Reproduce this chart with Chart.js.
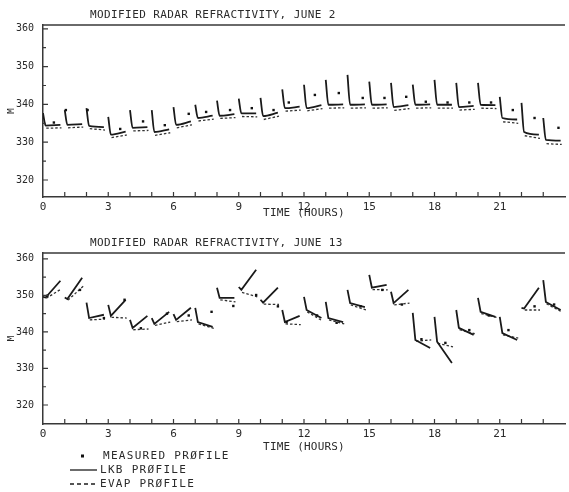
<!DOCTYPE html>
<html>
<head>
<meta charset="utf-8">
<script src="https://cdn.jsdelivr.net/npm/chart.js@4.4.1/dist/chart.umd.min.js"></script>
<style>
  html, body { margin: 0; padding: 0; background: #fff; }
  #wrap { position: relative; width: 569px; height: 492px; overflow: hidden; }
  #wrap canvas { position: absolute; left: 0; }
  #june2 { top: 0; }
  #june13 { top: 230px; }
</style>
</head>
<body>
<div id="wrap">
  <canvas id="june2" width="569" height="230"></canvas>
  <canvas id="june13" width="569" height="262"></canvas>
</div>
<script>
// One profile is plotted per hour, offset along the time axis.
const HOURS = [0, 1, 2, 3, 4, 5, 6, 7, 8, 9, 10, 11, 12, 13, 14, 15, 16, 17, 18, 19, 20, 21, 22, 23];
const X_LABELS = [0, 3, 6, 9, 12, 15, 18, 21];
const Y_TICKS = [320, 330, 340, 350, 360];

// June 2: surface value, duct minimum and top-of-profile value (M units)
const jun2Top  = [337.7, 338.5, 339.0, 336.7, 338.5, 338.5, 339.3, 339.9, 341.0, 341.5, 341.7, 344.0, 345.2, 346.5, 347.8, 346.0, 345.7, 345.2, 346.5, 345.7, 345.7, 342.0, 340.4, 336.4];
const jun2Base = [334.4, 334.6, 334.3, 332.0, 333.8, 332.7, 334.6, 336.4, 337.0, 337.6, 336.9, 339.0, 339.0, 339.9, 339.9, 339.9, 339.3, 339.9, 339.9, 339.3, 339.9, 336.4, 332.7, 330.6];
const jun2End  = [334.6, 334.8, 334.0, 332.8, 334.0, 333.4, 335.5, 337.0, 337.4, 337.6, 337.8, 339.4, 339.8, 340.0, 340.0, 340.0, 339.8, 340.0, 339.9, 339.6, 339.8, 336.0, 332.0, 330.4];
const jun2EvapBase = [333.7, 333.8, 333.6, 331.2, 333.0, 331.8, 333.8, 335.6, 336.3, 336.8, 336.0, 338.2, 338.3, 339.0, 339.0, 339.0, 338.4, 339.0, 339.0, 338.5, 339.0, 335.4, 331.7, 329.6];
const jun2EvapEnd  = [333.8, 334.0, 333.2, 331.9, 333.1, 332.5, 334.6, 336.1, 336.5, 336.7, 336.9, 338.5, 338.9, 339.1, 339.1, 339.1, 338.9, 339.1, 339.0, 338.7, 338.9, 335.0, 331.0, 329.4];
const jun2MeasT = [0.5, 1.05, 2.05, 3.55, 4.6, 5.6, 6.7, 7.5, 8.6, 9.6, 10.6, 11.3, 12.5, 13.6, 14.7, 15.7, 16.7, 17.6, 18.6, 19.6, 20.6, 21.6, 22.6, 23.7];
const jun2MeasV = [335.2, 338.5, 338.5, 333.5, 335.5, 334.5, 337.5, 338.0, 338.5, 339.0, 338.5, 340.5, 342.5, 343.0, 341.7, 341.7, 342.0, 340.7, 340.5, 340.5, 340.5, 338.5, 336.4, 333.8];

// June 13
const jun13Top  = [349.6, 349.4, 348.0, 347.4, 343.3, 343.8, 344.9, 346.6, 352.1, 352.3, 348.8, 346.0, 349.6, 348.2, 351.5, 355.6, 351.0, 345.2, 344.1, 346.0, 349.3, 344.1, 346.6, 354.2];
const jun13Base = [349.4, 349.0, 343.8, 344.4, 341.1, 342.2, 343.3, 342.7, 349.3, 351.5, 348.0, 342.7, 346.0, 343.8, 347.9, 352.1, 347.9, 337.8, 337.3, 341.1, 345.5, 339.7, 346.4, 348.2];
const jun13End  = [354.0, 354.8, 344.7, 348.8, 344.4, 345.5, 346.6, 341.4, 349.3, 357.0, 352.1, 344.4, 343.8, 342.7, 346.8, 352.9, 351.5, 335.6, 331.5, 339.2, 344.1, 337.8, 352.1, 346.0];
const jun13EvapBase = [349.2, 348.7, 343.3, 344.0, 340.6, 341.8, 342.8, 342.2, 348.8, 350.8, 347.6, 342.2, 345.5, 343.3, 347.4, 351.6, 347.4, 337.5, 336.9, 340.6, 345.0, 339.2, 346.0, 347.7];
const jun13EvapEnd  = [351.8, 352.5, 343.5, 343.8, 340.8, 342.7, 343.3, 341.0, 348.2, 349.6, 347.5, 342.0, 343.0, 342.2, 346.0, 351.5, 347.9, 337.8, 335.9, 339.5, 344.0, 338.3, 346.0, 345.5];
const jun13MeasT = [0.2, 1.7, 2.8, 3.75, 4.5, 5.7, 6.7, 7.75, 8.75, 9.8, 10.8, 11.2, 12.6, 13.5, 14.6, 15.6, 16.5, 17.4, 18.5, 19.6, 20.5, 21.4, 22.6, 23.5];
const jun13MeasV = [349.9, 351.5, 343.8, 348.8, 341.0, 345.0, 344.5, 345.5, 347.1, 350.1, 347.0, 342.7, 344.5, 342.5, 347.0, 351.5, 347.5, 338.0, 337.0, 340.5, 344.5, 340.5, 347.0, 347.5];

const INK = "#2a2a2a";
const MONO = "'DejaVu Sans Mono', monospace";

// solid LKB profile: spike at the hour, drop to the minimum, run out to the right
function lkbPoints(top, base, end) {
  const pts = [];
  HOURS.forEach((h, i) => {
    pts.push({ x: h, y: top[i] }, { x: h + 0.12, y: base[i] }, { x: h + 0.8, y: end[i] }, { x: h + 0.9, y: null });
  });
  return pts;
}

function evapPoints(base, end) {
  const pts = [];
  HOURS.forEach((h, i) => {
    pts.push({ x: h + 0.15, y: base[i] }, { x: h + 0.85, y: end[i] }, { x: h + 0.9, y: null });
  });
  return pts;
}

function measPoints(t, v) {
  return t.map((x, i) => ({ x: x, y: v[i] }));
}

function text(ctx, str, x, y, size, spacing, align) {
  ctx.save();
  ctx.font = size + "px " + MONO;
  ctx.letterSpacing = spacing + "px";
  ctx.fillStyle = INK;
  ctx.textAlign = align || "left";
  ctx.textBaseline = "middle";
  ctx.fillText(str, x, y);
  ctx.restore();
}

// frame, tick marks and captions in the old plotter style
const plotterFrame = {
  id: "plotterFrame",
  afterDraw(chart, args, opts) {
    const { ctx, chartArea: a } = chart;
    const xs = chart.scales.x, ys = chart.scales.y;
    ctx.save();
    ctx.strokeStyle = "#383838";
    ctx.lineWidth = 1.5;
    ctx.beginPath();
    ctx.moveTo(a.left, a.top);
    ctx.lineTo(a.right, a.top);
    ctx.stroke();
    ctx.lineWidth = 1.2;
    ctx.beginPath();
    HOURS.slice(1).forEach(h => {
      const px = xs.getPixelForValue(h);
      ctx.moveTo(px, a.bottom);
      ctx.lineTo(px, a.bottom - 5);
    });
    for (let v = 320; v <= 360; v += 5) {
      const py = ys.getPixelForValue(v);
      ctx.moveTo(a.left, py);
      ctx.lineTo(a.left + (v % 10 ? 3 : 5), py);
    }
    ctx.stroke();
    ctx.restore();

    text(ctx, opts.title, 90, opts.titleY, 11, 0.4);
    text(ctx, "TIME (HOURS)", 304, opts.timeY, 11, 0.2, "center");

    ctx.save();
    ctx.translate(12, (a.top + a.bottom) / 2);
    ctx.rotate(-Math.PI / 2);
    text(ctx, "M", 0, 0, 9, 0, "center");
    ctx.restore();

    if (opts.legend) {
      const rows = opts.legendY;
      ctx.save();
      ctx.fillStyle = "#111";
      ctx.fillRect(81, rows[0] - 1.5, 3, 3);
      ctx.strokeStyle = "#1c1c1c";
      ctx.lineWidth = 1.3;
      ctx.beginPath();
      ctx.moveTo(70, rows[1]);
      ctx.lineTo(97, rows[1]);
      ctx.stroke();
      ctx.setLineDash([4, 3]);
      ctx.beginPath();
      ctx.moveTo(70, rows[2]);
      ctx.lineTo(97, rows[2]);
      ctx.stroke();
      ctx.restore();
      text(ctx, "MEASURED PRØFILE", 103, rows[0], 11, 1.3);
      text(ctx, "LKB PRØFILE", 100, rows[1], 11, 1.3);
      text(ctx, "EVAP PRØFILE", 100, rows[2], 11, 1.3);
    }
  }
};

function makePanel(id, cfg) {
  new Chart(document.getElementById(id), {
    type: "line",
    data: {
      datasets: [
        {
          data: measPoints(cfg.measT, cfg.measV),
          showLine: false,
          pointStyle: "rect",
          pointRadius: 1.7,
          pointBackgroundColor: "#111",
          pointBorderWidth: 0,
        },
        {
          data: lkbPoints(cfg.top, cfg.base, cfg.end),
          borderColor: "#1a1a1a",
          borderWidth: 1.8,
          pointRadius: 0,
          cubicInterpolationMode: cfg.smooth ? "monotone" : "default",
          tension: 0,
          spanGaps: false,
        },
        {
          data: evapPoints(cfg.evapBase, cfg.evapEnd),
          borderColor: "#333",
          borderWidth: 1.3,
          borderDash: [2.5, 2],
          pointRadius: 0,
          spanGaps: false,
        },
      ],
    },
    options: {
      responsive: false,
      animation: false,
      devicePixelRatio: 1,
      layout: { padding: { top: cfg.padTop, left: 0, right: 0, bottom: 0 } },
      plugins: {
        legend: { display: false },
        tooltip: { enabled: false },
        plotterFrame: cfg.frame,
      },
      scales: {
        x: {
          type: "linear",
          min: 0,
          max: 24,
          grid: { display: false, drawTicks: false },
          border: { display: true, color: "#383838", width: 1.5 },
          ticks: {
            stepSize: 1,
            autoSkip: false,
            maxRotation: 0,
            padding: 4,
            color: INK,
            font: { family: MONO, size: 11 },
            callback: v => (X_LABELS.includes(v) ? String(v) : ""),
          },
          afterFit(s) { s.height = cfg.xHeight; },
        },
        y: {
          min: cfg.yMin,
          max: cfg.yMax,
          afterBuildTicks(s) { s.ticks = Y_TICKS.map(v => ({ value: v })); },
          grid: { display: false, drawTicks: false },
          border: { display: true, color: "#383838", width: 1.5 },
          ticks: {
            padding: 9,
            color: INK,
            font: { family: MONO, size: 10 },
          },
          afterFit(s) { s.width = 43; },
        },
      },
    },
    plugins: [plotterFrame],
  });
}

makePanel("june2", {
  top: jun2Top, base: jun2Base, end: jun2End,
  evapBase: jun2EvapBase, evapEnd: jun2EvapEnd,
  measT: jun2MeasT, measV: jun2MeasV,
  smooth: true,
  yMin: 315.5, yMax: 361,
  padTop: 25, xHeight: 33,
  frame: { title: "MODIFIED RADAR REFRACTIVITY, JUNE 2", titleY: 15, timeY: 213 },
});

makePanel("june13", {
  top: jun13Top, base: jun13Base, end: jun13End,
  evapBase: jun13EvapBase, evapEnd: jun13EvapEnd,
  measT: jun13MeasT, measV: jun13MeasV,
  smooth: false,
  yMin: 314.8, yMax: 361.6,
  padTop: 23, xHeight: 68,
  frame: {
    title: "MODIFIED RADAR REFRACTIVITY, JUNE 13", titleY: 13, timeY: 217,
    legend: true, legendY: [226, 240, 254],
  },
});
</script>
</body>
</html>
